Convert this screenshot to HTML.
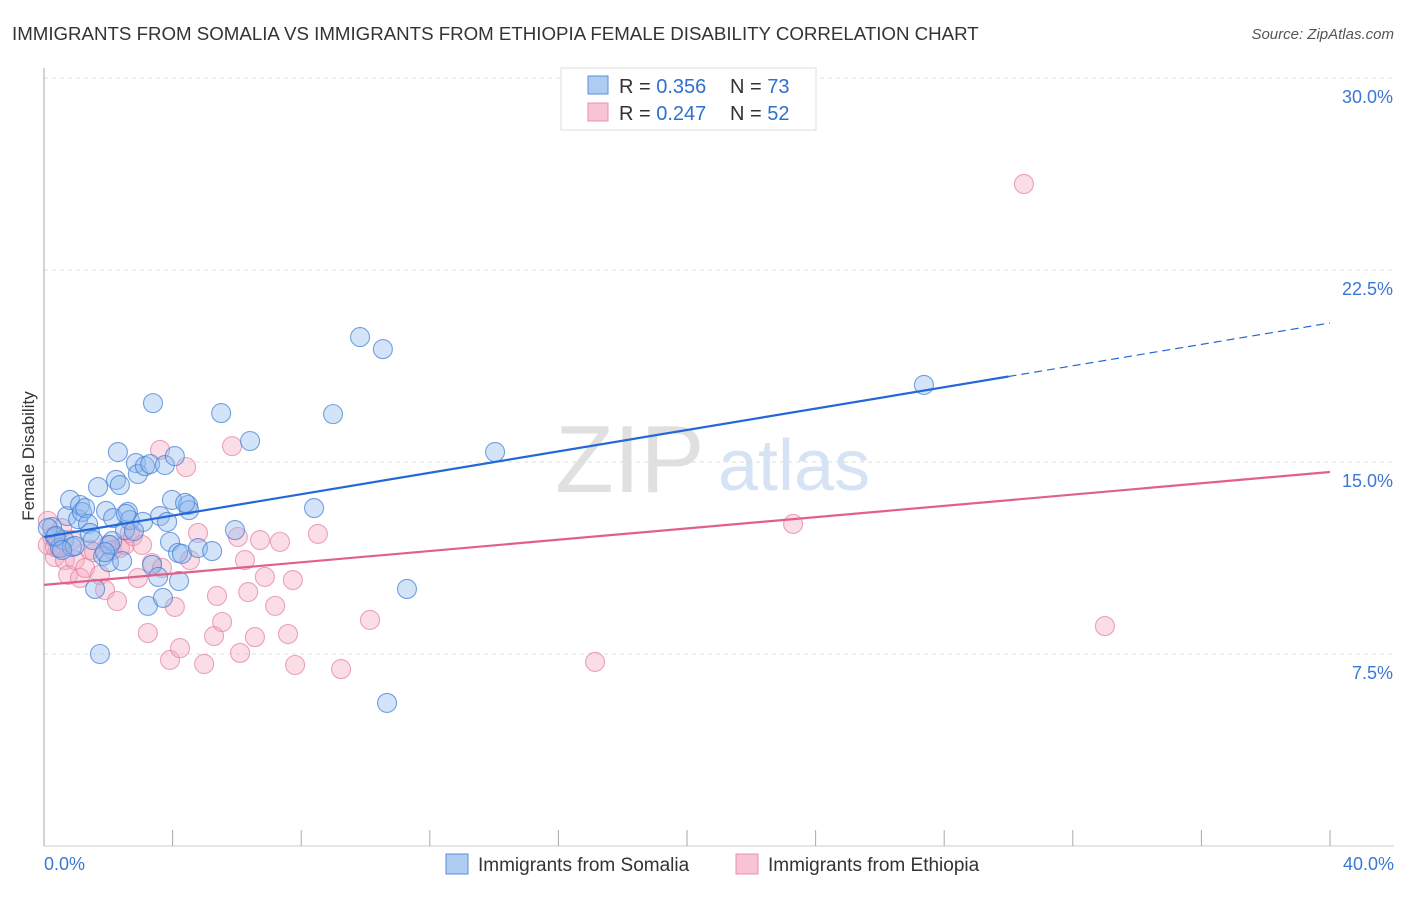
<!DOCTYPE html>
<html><head><meta charset="utf-8"><style>
body{margin:0;background:#fff;font-family:"Liberation Sans",sans-serif;}
svg text{font-family:"Liberation Sans",sans-serif;}
</style></head><body>
<svg id="c" width="1406" height="892" xmlns="http://www.w3.org/2000/svg">
<text x="12" y="40" font-size="18.7" fill="#333">IMMIGRANTS FROM SOMALIA VS IMMIGRANTS FROM ETHIOPIA FEMALE DISABILITY CORRELATION CHART</text>
<text x="1394" y="39" font-size="15" fill="#555" font-style="italic" text-anchor="end">Source: ZipAtlas.com</text>
<text x="34" y="456" font-size="17" fill="#333" text-anchor="middle" transform="rotate(-90 34 456)">Female Disability</text>
<text x="555" y="492" font-size="96" fill="#e0e0e0" font-family="Liberation Serif">ZIP</text>
<text x="718" y="490" font-size="72" fill="#d6e3f5">atlas</text>
<g id="grid"></g><g id="axes"></g><g id="pts"></g><g id="lines"></g>
<g>
<rect x="561" y="68" width="255" height="62" fill="#fff" stroke="#ddd"/>
<rect x="588" y="76" width="20" height="18" fill="#aecbf2" stroke="#5b8fd8"/>
<text x="619" y="93" font-size="20" fill="#333">R = <tspan fill="#2f6fd0">0.356</tspan></text>
<text x="730" y="93" font-size="20" fill="#333">N = <tspan fill="#2f6fd0">73</tspan></text>
<rect x="588" y="103" width="20" height="18" fill="#f8c3d3" stroke="#e890ad"/>
<text x="619" y="120" font-size="20" fill="#333">R = <tspan fill="#2f6fd0">0.247</tspan></text>
<text x="730" y="120" font-size="20" fill="#333">N = <tspan fill="#2f6fd0">52</tspan></text>
</g>
<g>
<rect x="446" y="854" width="22" height="20" fill="#aecbf2" stroke="#5b8fd8"/>
<text x="478" y="871" font-size="19" fill="#333">Immigrants from Somalia</text>
<rect x="736" y="854" width="22" height="20" fill="#f8c3d3" stroke="#e890ad"/>
<text x="768" y="871" font-size="19" fill="#333">Immigrants from Ethiopia</text>
</g>
</svg>
<script>
const yTicks=[7.5,15,22.5,30];
const yTickLabels=["7.5%","15.0%","22.5%","30.0%"];
const xLabels=["0.0%","40.0%"];
const somaliaX=[0.25,0.34,0.50,0.62,0.72,0.81,0.87,0.96,1.06,1.12,1.18,1.28,1.37,1.43,1.52,1.59,1.68,1.74,1.84,1.93,2.02,2.12,2.15,2.24,2.30,2.36,2.43,2.52,2.61,2.67,2.86,2.92,3.08,3.14,3.23,3.30,3.36,3.39,3.55,3.61,3.70,3.76,3.92,3.98,4.07,4.17,4.20,4.29,4.48,4.51,4.79,5.23,5.51,5.94,6.41,8.40,8.99,9.83,10.54,10.67,11.29,14.03,27.37,0.12,0.37,2.05,2.80,3.83,0.56,2.55,1.90,4.39];
const somaliaY=[12.46,12.07,11.64,11.95,12.89,13.52,11.68,11.72,12.77,13.32,13.05,13.20,12.58,12.23,11.95,10.04,14.02,7.50,11.33,13.09,11.09,11.91,12.81,14.30,15.39,14.10,11.13,12.34,13.05,12.73,14.96,14.53,12.66,14.84,9.38,14.92,10.98,17.30,10.51,12.89,9.69,14.88,11.88,13.52,15.23,11.45,10.35,11.41,13.32,13.12,11.64,11.52,16.91,12.34,15.82,13.20,16.87,19.88,19.41,5.59,10.04,15.39,18.01,12.42,12.11,11.76,12.30,12.66,11.56,12.97,11.48,13.40];
const ethiopiaX=[0.12,0.25,0.34,0.44,0.56,0.65,0.75,0.87,0.96,1.12,1.28,1.43,1.56,1.74,1.90,1.99,2.12,2.27,2.36,2.52,2.67,2.77,2.92,3.05,3.23,3.36,3.61,3.67,3.92,4.07,4.23,4.42,4.54,4.79,4.98,5.29,5.38,5.54,5.85,6.03,6.10,6.25,6.35,6.56,6.72,6.87,7.19,7.34,7.59,7.74,7.81,8.52,9.24,10.14,17.14,23.30,30.48,33.00,0.12,0.34];
const ethiopiaY=[12.70,12.07,11.29,11.64,12.42,11.17,10.59,11.95,11.17,10.47,10.86,11.56,11.48,10.59,10.00,11.76,11.56,9.57,11.64,11.76,12.23,12.11,10.47,11.76,8.32,11.05,15.47,10.86,7.27,9.34,7.73,14.80,11.17,12.23,7.11,8.20,9.77,8.75,15.62,12.07,7.54,11.17,9.92,8.16,11.95,10.51,9.38,11.88,8.28,10.39,7.07,12.19,6.91,8.83,7.19,12.58,25.86,8.59,11.76,11.68];
const somaliaTrend=[12.07,20.43];
const ethiopiaTrend=[10.20,14.61];
const NS="http://www.w3.org/2000/svg";
const X=v=>44+v*(1286/40);
const Y=v=>654-(v-7.5)*(192/7.5);
function mk(tag,attrs,parent){const e=document.createElementNS(NS,tag);for(const k in attrs)e.setAttribute(k,attrs[k]);document.getElementById(parent).appendChild(e);return e;}
yTicks.forEach((t,i)=>{
 const g=mk('line',{x1:44,x2:1394,y1:Y(t),y2:Y(t),stroke:'#ddd','stroke-dasharray':'4,4'},'grid');
 
 
 const l=mk('text',{x:1393,y:Y(t)+25,'font-size':18,fill:'#3a78d4','text-anchor':'end'},'grid');
 l.textContent=yTickLabels[i];
 
 
});
const ax=mk('line',{x1:44,x2:44,y1:68,y2:846,stroke:'#aaa'},'axes');


const bx=mk('line',{x1:44,x2:1394,y1:846,y2:846,stroke:'#ccc'},'axes');


for(let i=1;i<=10;i++){
 const t=mk('line',{x1:X(i*4),x2:X(i*4),y1:830,y2:846,stroke:'#aaa'},'axes');
 
 
}
[[0,'start',44],[40,'end',1394]].forEach((d,i)=>{
 const l=mk('text',{x:d[2],y:870,'font-size':18,fill:'#3a78d4','text-anchor':d[1]},'axes');
 l.textContent=xLabels[i];
 
 
});
function pts(xs,ys,fill,stroke,name){
 xs.forEach((x,i)=>{
  const c=mk('circle',{cx:X(x),cy:Y(ys[i]),r:9.5,fill:fill,'fill-opacity':0.4,stroke:stroke,'stroke-opacity':0.7,'stroke-width':1.1},'pts');
  
  
 });
}
pts(ethiopiaX,ethiopiaY,'#f5a9c1','#e47fa2','ethiopia-point');
pts(somaliaX,somaliaY,'#90b9ee','#3d7ed6','somalia-point');
const bs=mk('line',{x1:X(0),y1:Y(somaliaTrend[0]),x2:X(30),y2:Y(somaliaTrend[0]+(somaliaTrend[1]-somaliaTrend[0])*0.75),stroke:'#2368d6','stroke-width':2.2},'lines');


const bd=mk('line',{x1:X(30),y1:Y(somaliaTrend[0]+(somaliaTrend[1]-somaliaTrend[0])*0.75),x2:X(40),y2:Y(somaliaTrend[1]),stroke:'#2368d6','stroke-width':1.2,'stroke-dasharray':'8,5'},'lines');


const pl=mk('line',{x1:X(0),y1:Y(ethiopiaTrend[0]),x2:X(40),y2:Y(ethiopiaTrend[1]),stroke:'#e0608a','stroke-width':2.2},'lines');


</script>
</body></html>
